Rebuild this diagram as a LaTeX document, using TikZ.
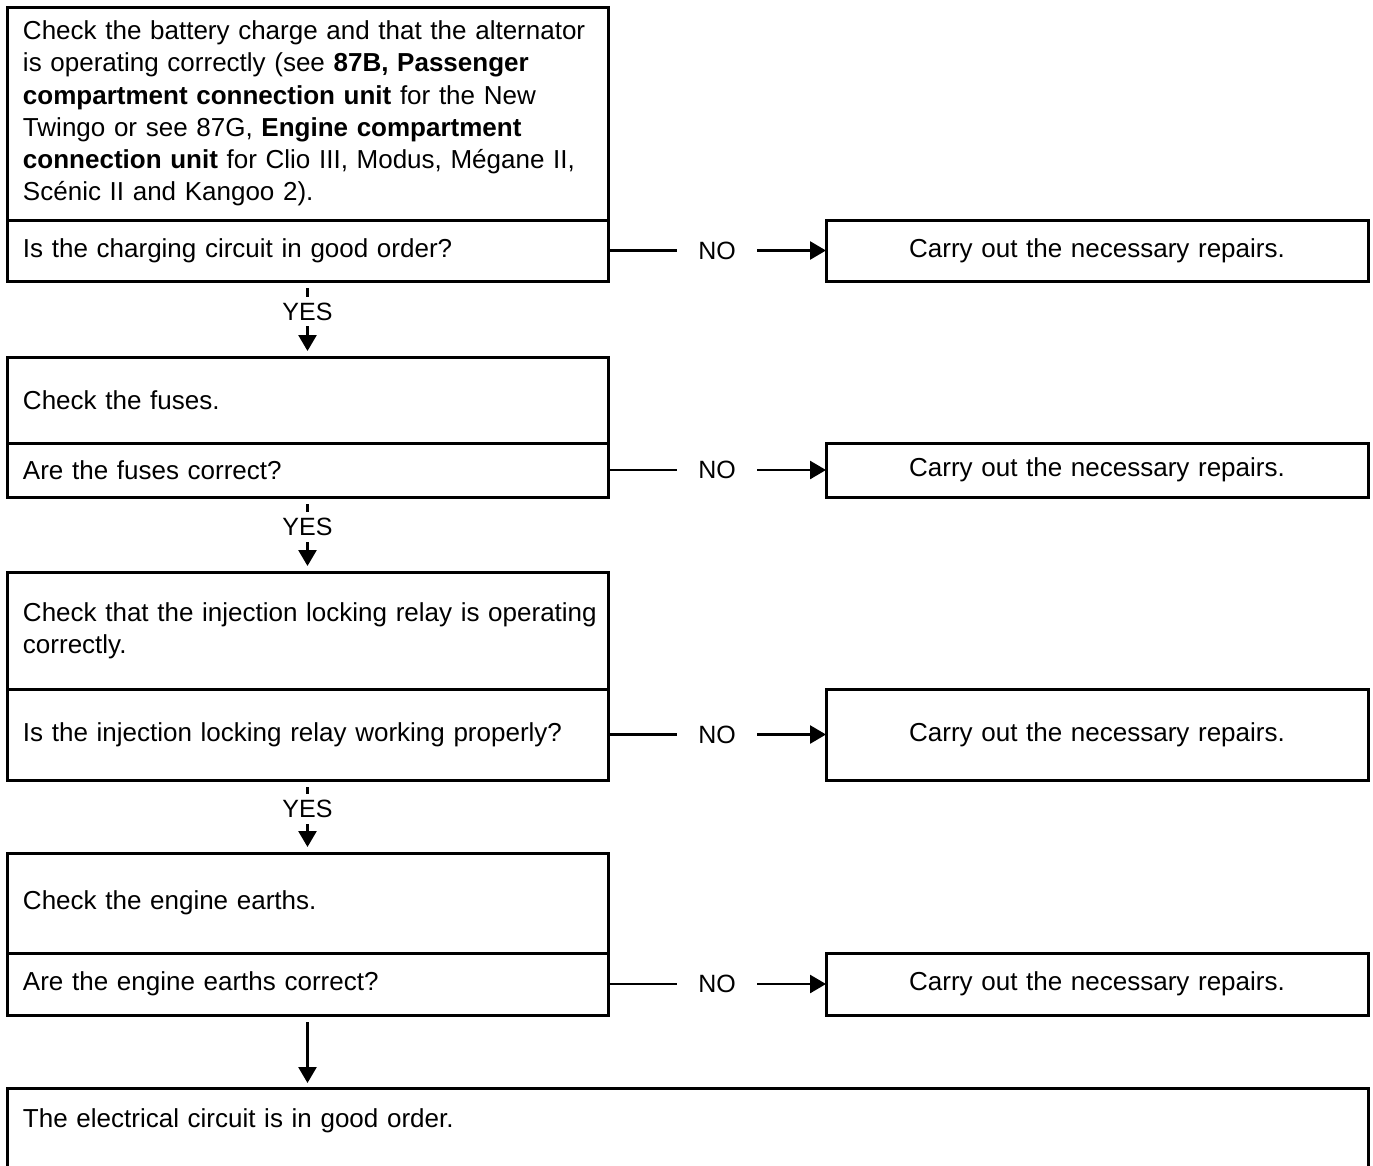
\documentclass[tikz,border=0pt]{standalone}
\usepackage{fontspec}
\setmainfont{Liberation Sans}
\usetikzlibrary{arrows.meta, positioning}
\hyphenpenalty=10000
\exhyphenpenalty=10000

\begin{document}
\begin{tikzpicture}[
        x=1pt, y=-1pt,
        >={Triangle[length=16pt,width=18pt]},
        stepbox/.style={
            draw=black,
            line width=3pt,
            rectangle,
            outer sep=0pt,
            inner xsep=16pt,
            inner ysep=0pt,
            minimum width=601pt,
            text width=569pt,
            align=left,
            font=\fontsize{26}{32.3}\selectfont
        },
        fixbox/.style={
            stepbox,
            minimum width=542pt,
            text width=510pt,
            align=center
        },
        flow/.style={draw, line width=2.7pt, ->},
        yeslabel/.style={fill=white, inner xsep=2pt, inner ysep=6pt, font=\fontsize{25}{30}\selectfont},
        nolabel/.style={fill=white, inner xsep=21pt, inner ysep=4pt, font=\fontsize{25}{30}\selectfont}
    ]

    \clip (0,0) rectangle (1373,1165);

    % Step 1 — charging circuit
    \node[stepbox, minimum height=213pt, anchor=north west] (check1) at (7,7) {
        \mbox{Check the battery charge and that the alternator}\\
        is operating correctly (see \textbf{87B, Passenger}\\
        \textbf{compartment connection unit} for the New\\
        Twingo or see 87G, \textbf{Engine compartment}\\
        \mbox{\textbf{connection unit} for Clio III, Modus, Mégane II,}\\
        Scénic II and Kangoo 2).
    };
    \node[stepbox, minimum height=61pt, below=0pt of check1] (ask1) {Is the charging circuit in good order?};
    \node[fixbox, minimum height=61pt, anchor=west] (fix1) at ([xshift=218pt]ask1.east) {Carry out the necessary repairs.};
    \draw[flow] (ask1.east) -- node[nolabel] {NO} (fix1.west);

    % Step 2 — fuses
    \node[stepbox, minimum height=86pt, below=76pt of ask1] (check2) {Check the fuses.};
    \node[stepbox, minimum height=54pt, below=0pt of check2] (ask2) {Are the fuses correct?};
    \node[fixbox, minimum height=54pt, anchor=west] (fix2) at ([xshift=218pt]ask2.east) {Carry out the necessary repairs.};
    \draw[flow] (ask2.east) -- node[nolabel] {NO} (fix2.west);
    \draw[flow, shorten <=7pt, shorten >=6pt] (ask1.south) -- node[yeslabel, pos=0.4] {YES} (check2.north);

    % Step 3 — injection locking relay
    \node[stepbox, minimum height=117pt, below=75pt of ask2] (check3) {
        \mbox{Check that the injection locking relay is operating}\\
        correctly.
    };
    \node[stepbox, minimum height=91pt, below=0pt of check3] (ask3) {\mbox{Is the injection locking relay working properly?}};
    \node[fixbox, minimum height=91pt, anchor=west] (fix3) at ([xshift=218pt]ask3.east) {Carry out the necessary repairs.};
    \draw[flow] (ask3.east) -- node[nolabel] {NO} (fix3.west);
    \draw[flow, shorten <=7pt, shorten >=6pt] (ask2.south) -- node[yeslabel, pos=0.4] {YES} (check3.north);

    % Step 4 — engine earths
    \node[stepbox, minimum height=100pt, below=73pt of ask3] (check4) {Check the engine earths.};
    \node[stepbox, minimum height=62pt, below=0pt of check4] (ask4) {Are the engine earths correct?};
    \node[fixbox, minimum height=62pt, anchor=west] (fix4) at ([xshift=218pt]ask4.east) {Carry out the necessary repairs.};
    \draw[flow] (ask4.east) -- node[nolabel] {NO} (fix4.west);
    \draw[flow, shorten <=7pt, shorten >=6pt] (ask3.south) -- node[yeslabel, pos=0.4] {YES} (check4.north);

    % End
    \node[stepbox, minimum width=1361pt, text width=1329pt, text height=39pt, text depth=100pt, anchor=north west] (done) at ([yshift=-73pt]ask4.south west) {The electrical circuit is in good order.};
    \draw[flow, shorten <=7pt, shorten >=5pt] (ask4.south) -- (ask4.south |- done.north);

\end{tikzpicture}
\end{document}
